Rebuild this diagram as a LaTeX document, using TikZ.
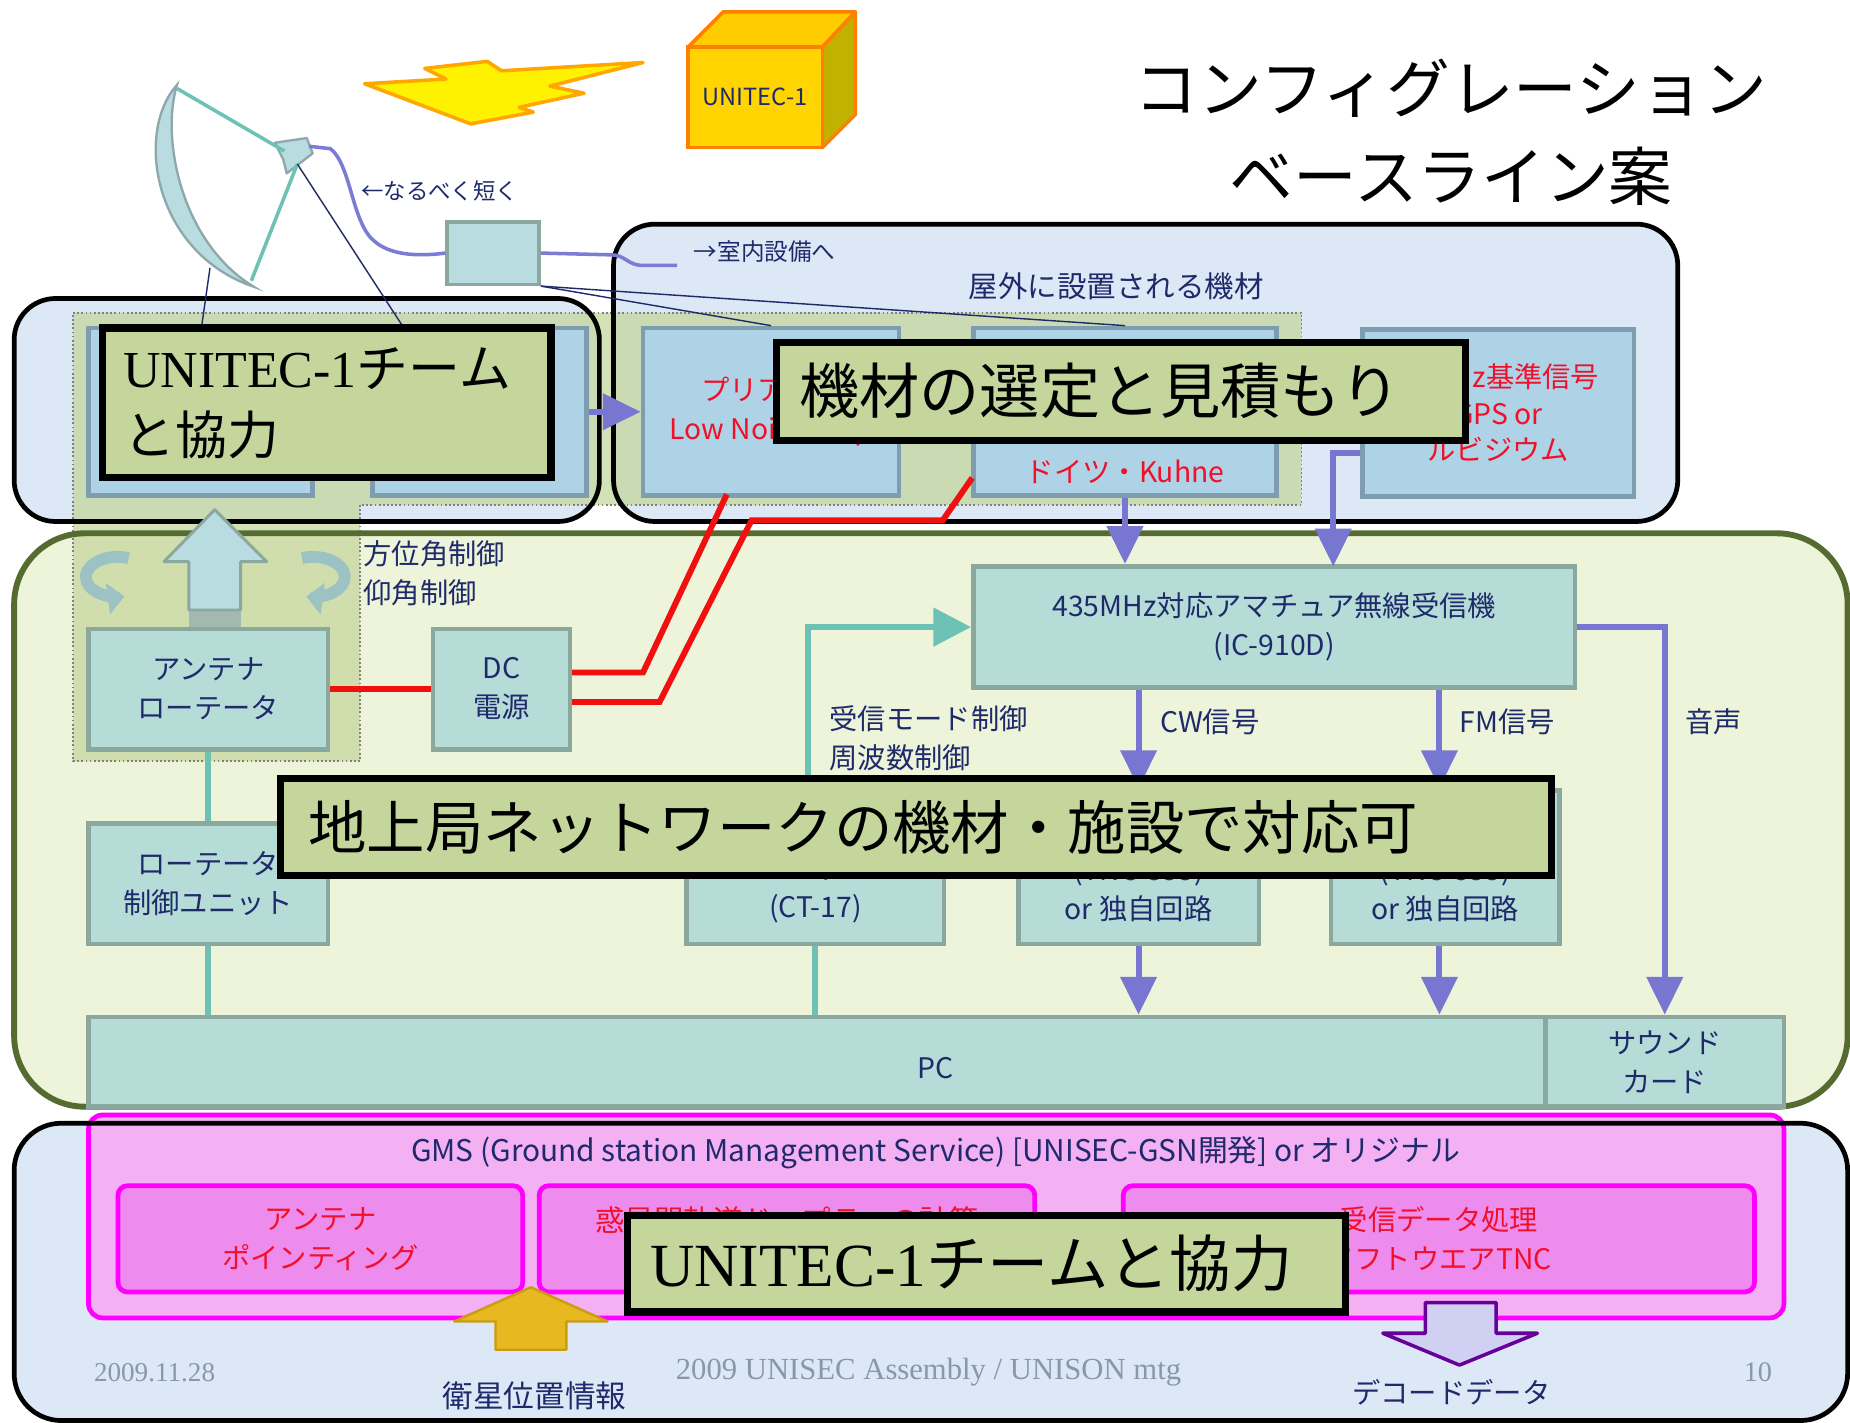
\documentclass[tikz,border=0pt]{standalone}
\usepackage{fontspec}
\setmainfont{Noto Sans CJK JP}
\newfontfamily\jp{Noto Sans CJK JP}
\newfontfamily\rom{Liberation Serif}
\usetikzlibrary{arrows.meta}
\newcommand\fsz[2]{\fontsize{#1}{#2}\selectfont}
\definecolor{navy}{HTML}{1F2A6B}
\definecolor{skyfill}{HTML}{DCE8F5}
\definecolor{grassfill}{HTML}{EDF4D9}
\definecolor{grassline}{HTML}{556B2F}
\definecolor{olivefill}{HTML}{C5D79E}
\definecolor{oboxfill}{HTML}{AFD3E6}
\definecolor{oboxline}{HTML}{7E9DB0}
\definecolor{gboxfill}{HTML}{B5DCD6}
\definecolor{gboxline}{HTML}{8BA89F}
\definecolor{notefill}{HTML}{C4D69C}
\definecolor{arrowblue}{HTML}{7777D2}
\definecolor{tealline}{HTML}{6DC2B5}
\definecolor{redline}{HTML}{F01010}
\definecolor{magline}{HTML}{FF00FF}
\definecolor{magfill}{HTML}{F3B0F3}
\definecolor{subfill}{HTML}{EE8CEE}
\definecolor{redtext}{HTML}{F0102A}
\definecolor{foot}{HTML}{8898A8}
\definecolor{dishc}{HTML}{B8DCE0}
\definecolor{dishline}{HTML}{8FA8AC}
\definecolor{cable}{HTML}{7B7BD8}
\definecolor{goldfill}{HTML}{E8B820}
\definecolor{goldline}{HTML}{C99C12}
\definecolor{spin}{HTML}{9CC2C4}
\begin{document}
\begin{tikzpicture}[x=1pt,y=-1pt,
  lbl/.style={text=navy, font=\fsz{24}{33}, align=center, inner sep=0},
  rlbl/.style={text=redtext, font=\fsz{24}{32}, align=center, inner sep=0},
  obox/.style={draw=oboxline, fill=oboxfill, line width=4, inner sep=0},
  gbox/.style={draw=gboxline, fill=gboxfill, line width=4, inner sep=0, text=navy, font=\fsz{24}{33}, align=center},
  subbox/.style={draw=magline, fill=subfill, line width=4, rounded corners=8, inner sep=0, text=redtext, font=\fsz{24}{33}, align=center},
  note/.style={draw=black, fill=notefill, line width=6, inner sep=0},
  barrow/.style={draw=arrowblue, line width=5, -{Triangle[width=30pt,length=32pt]}},
  tarrow/.style={draw=tealline, line width=5, -{Triangle[width=32pt,length=32pt]}},
  tline/.style={draw=tealline, line width=5},
  rline/.style={draw=redline, line width=5, line join=miter},
  thin/.style={draw=navy, line width=1.2},
  framebox/.style={draw=black, line width=4, rounded corners=35},
  spinarrow/.style={draw=spin, line width=10, -{Triangle[width=26pt,length=14pt]}},
]
\useasboundingbox (0,0) rectangle (1568,1206);
\fill[white] (0,0) rectangle (1568,1206);

% ---------- background areas ----------
\fill[grassfill, rounded corners=60] (12,452) rectangle (1566,938);
\fill[skyfill, rounded corners=40] (12,952) rectangle (1566,1204);
\fill[skyfill, rounded corners=35] (12,253) rectangle (508,442);
\fill[skyfill, rounded corners=35] (520,190) rectangle (1422,442);

% outdoor equipment area (L-shaped, dotted)
\fill[olivefill, opacity=0.75] (62,265) -- (1103,265) -- (1103,428) -- (305,428) -- (305,645) -- (62,645) -- cycle;
\draw[gray, line width=1.5, dotted] (62,265) -- (1103,265) -- (1103,428) -- (305,428) -- (305,645) -- (62,645) -- cycle;

% GMS area
\filldraw[fill=magfill, draw=magline, line width=4, rounded corners=12] (75,945) rectangle (1512,1117);

% frames
\draw[grassline, line width=5, rounded corners=60] (12,452) rectangle (1566,938);
\draw[framebox, rounded corners=40] (12,952) rectangle (1566,1204);
\draw[framebox] (12,253) rectangle (508,442);
\draw[framebox] (520,190) rectangle (1422,442);

% ---------- title ----------
\node[font=\fsz{54}{75}, align=center, inner sep=0] (title) at (1230,112) {コンフィグレーション\\ベースライン案};

% ---------- lightning and satellite ----------
\filldraw[fill=yellow, draw=orange!70!yellow, line width=3, line join=round]
  (309,71) -- (378,67) -- (360,58) -- (413,52) -- (425,60) -- (545,53) -- (466,73)
  -- (495,79) -- (440,91) -- (452,95) -- (399,105) -- cycle;
\filldraw[fill=orange!40!yellow, draw=orange, line width=3, line join=round]
  (583,40) -- (613,10) -- (725,10) -- (697,40) -- cycle;
\filldraw[fill=orange!20!olive!60!yellow, draw=orange, line width=3, line join=round]
  (697,40) -- (725,10) -- (725,97) -- (697,125) -- cycle;
\node[draw=orange, fill=orange!25!yellow!95!red, line width=3, minimum width=114, minimum height=85,
  inner sep=0, text=navy, font=\fsz{20}{24}] (sat) at (640,82.5) {UNITEC-1};

% ---------- antenna ----------
\filldraw[fill=dishc, draw=dishline, line width=2]
  (150,72) .. controls (114,112) and (130,214) .. (215,243)
  .. controls (154,206) and (136,118) .. (150,72) -- cycle;
\coordinate (dtop) at (150,75);
\coordinate (dbot) at (213,238);
\coordinate (dmid) at (178,227);
\filldraw[fill=dishc, draw=dishline, line width=2, line join=round]
  (233,121) -- (260,117) -- (265,130) -- (243,147) -- (240,135) -- cycle;
\coordinate (feed) at (241,128);
\coordinate (feedr) at (262,124);
\coordinate (feedb) at (252,139);
\draw[tealline, line width=3] (dtop) -- (feed);
\draw[tealline, line width=3] (feedb) -- (dbot);

% junction box and cable
\node[draw=gboxline, fill=dishc, line width=3, minimum width=78, minimum height=53, inner sep=0] (jbox) at (418,214.5) {};
\coordinate (indoor) at (574,225);
\draw[cable, line width=3] (feedr) -- (280,126) .. controls (298,140) and (298,190) .. (318,205)
  .. controls (330,215) and (350,218) .. (jbox.west);
\draw[cable, line width=3] (jbox.east) -- (518,216) .. controls (530,216) and (532,225) .. (545,225) -- (indoor);
\node[text=navy, font=\fsz{19}{24}, anchor=west, inner sep=0] (short) at (306,162) {←なるべく短く};
\node[text=navy, font=\fsz{20}{24}, anchor=west, inner sep=0] (toin) at (588,213) {→室内設備へ};
\node[text=navy, font=\fsz{25}{30}, inner sep=0] (outlbl) at (946,243) {屋外に設置される機材};

% ---------- outdoor boxes ----------
\node[obox, minimum width=190, minimum height=142] (boxA) at (170,349) {};
\node[obox, minimum width=181, minimum height=142] (boxB) at (406.5,349) {};
\node[rlbl] at (460,333) {部};
\node[obox, minimum width=217, minimum height=142, text=redtext, font=\fsz{24}{33}, align=center] (boxC) at (653.5,349) {プリアンプ\\Low Noise Amp};
\node[obox, minimum width=257, minimum height=142] (boxD) at (953.5,349) {};
\node[rlbl] (kuhne) at (953.5,400) {ドイツ・Kuhne};
\node[obox, minimum width=230, minimum height=142, text=redtext, font=\fsz{24}{31}, align=center] (boxE) at (1270,350) {10MHz基準信号\\GPS or\\ルビジウム};

\draw[barrow] (boxB.east) -- (boxC.west);

% thin lines from the antenna and the junction box
\coordinate (bBtop) at (341,276);
\coordinate (bAtop) at (171,276);
\draw[thin] (feedb) -- (bBtop);
\draw[thin] (dmid) -- (bAtop);
\draw[thin] (jbox.south east) -- (boxC.north);
\draw[thin] (jbox.south east) -- (boxD.north);

% ---------- ground station boxes ----------
\fill[gboxline!80] (160,515) rectangle (204,535);
\filldraw[fill=dishc, draw=gboxline, line width=2.5, line join=round]
  (182,432) -- (226,476) -- (204,476) -- (204,517) -- (160,517) -- (160,476) -- (139,476) -- cycle;
\draw[spinarrow] (109,473) arc[start angle=-70, end angle=-282, x radius=27, y radius=17];
\draw[spinarrow] (256,473) arc[start angle=-110, end angle=102, x radius=27, y radius=17];

\node[lbl, anchor=west, align=left] (azel) at (308,486) {方位角制御\\仰角制御};

\node[gbox, minimum width=203, minimum height=102] (rot) at (176.5,584) {アンテナ\\ローテータ};
\node[gbox, minimum width=116, minimum height=102] (dc) at (425,584) {DC\\電源};
\node[gbox, minimum width=203, minimum height=102] (ctl) at (176.5,749) {ローテータ\\制御ユニット};
\node[gbox, minimum width=218, minimum height=112] (ct) at (691,744) {};
\node[lbl] (cttext) at (691,754) {ユニット\\(CT-17)};
\node[gbox, minimum width=510, minimum height=103] (rx) at (1080,531.5) {435MHz対応アマチュア無線受信機\\(IC-910D)};
\node[gbox, minimum width=204, minimum height=130] (tnc1) at (965,735) {};
\node[lbl] (tnc1t) at (965,754) {(TNC-555)\\or 独自回路};
\node[gbox, minimum width=194, minimum height=130] (tnc2) at (1225,735) {};
\node[lbl] (tnc2t) at (1225,754) {(TNC-555)\\or 独自回路};
\node[gbox, minimum width=1235, minimum height=76] (pc) at (692.5,900) {};
\node[lbl] (pct) at (793,905) {PC};
\node[gbox, minimum width=202, minimum height=76] (snd) at (1411,900) {サウンド\\カード};

% connectors in the ground station
\draw[rline] (rot.east) -- (dc.west);
\coordinate (redC) at (616,419);
\coordinate (redD) at (824,405);
\draw[rline] ([yshift=14pt]dc.east) -- (545,570) -- (redC);
\draw[rline] ([yshift=-11pt]dc.east) -- (559,595) -- (637,441) -- (799,441) -- (redD);

\draw[tline] (rot.south) -- (ctl.north);
\draw[tline] (ctl.south) -- (ctl.south |- pc.north);
\draw[tline] (ct.south) -- (ct.south |- pc.north);
\draw[tarrow] ([xshift=-6pt]ct.north) |- (rx.west);

\coordinate (eIn) at (1130,480);
\draw[barrow] (boxD.south) -- (boxD.south |- rx.north);
\draw[barrow] ([yshift=-34pt]boxE.west) -| (eIn);
\draw[barrow] (tnc1.north |- rx.south) -- (tnc1.north);
\draw[barrow] ([xshift=-5pt]tnc2.north |- rx.south) -- ([xshift=-5pt]tnc2.north);
\draw[barrow] (tnc1.south) -- (tnc1.south |- pc.north);
\draw[barrow] ([xshift=-5pt]tnc2.south) -- ([xshift=-5pt]tnc2.south |- pc.north);
\draw[barrow, line join=miter] (rx.east) -| (snd.north);

\node[lbl, anchor=west, align=left] (modet) at (703,626) {受信モード制御\\周波数制御};
\node[lbl, anchor=west] (cwt) at (983,612) {CW信号};
\node[lbl, anchor=west] (fmt) at (1237,612) {FM信号};
\node[lbl, anchor=west] (voice) at (1428,612) {音声};

% ---------- GMS ----------
\node[text=navy, font=\fsz{25.3}{30}, inner sep=0] (gms) at (793,977) {GMS (Ground station Management Service) [UNISEC-GSN開発] or オリジナル};
\node[subbox, minimum width=343, minimum height=90] (point) at (271.5,1050) {アンテナ\\ポインティング};
\node[subbox, minimum width=420, minimum height=90] (orbit) at (667,1050) {};
\node[rlbl, font=\fsz{25}{32}] (orbitt) at (667,1034) {惑星間軌道ドップラーの計算};
\node[subbox, minimum width=535, minimum height=90] (decode) at (1219.5,1050) {受信データ処理\\ソフトウエアTNC};

\filldraw[fill=goldfill, draw=goldline, line width=2, line join=round]
  (450,1091) -- (515,1120) -- (480,1120) -- (480,1144) -- (420,1144) -- (420,1120) -- (385,1120) -- cycle;
\filldraw[fill=blue!15!white!90!gray, draw=violet!80!blue, line width=3, line join=round]
  (1208,1104) -- (1268,1104) -- (1268,1130) -- (1303,1130) -- (1237,1157) -- (1172,1130) -- (1208,1130) -- cycle;
\node[text=navy, font=\fsz{26}{30}, inner sep=0] (satpos) at (453,1183) {衛星位置情報};
\node[text=navy, font=\fsz{24}{30}, inner sep=0] (decd) at (1230,1180) {デコードデータ};

% footer
\node[text=foot, font=\rom\fsz{23}{28}, inner sep=0] (date) at (131,1163) {2009.11.28};
\node[text=foot, font=\rom\fsz{26}{30}, inner sep=0] (mtg) at (787,1163) {2009 UNISEC Assembly / UNISON mtg};
\node[text=foot, font=\rom\fsz{24}{28}, inner sep=0] (page) at (1490,1163) {10};

% ---------- notes ----------
\node[note, minimum width=380, minimum height=127, text width=345, align=left, font=\fsz{44}{57}] (n1) at (277,341.5) {{\rom UNITEC-1}チーム\\と協力};
\node[note, minimum width=584, minimum height=83, text width=545, align=left, font=\fsz{51}{60}] (n2) at (950,331.5) {機材の選定と見積もり};
\node[note, minimum width=1077, minimum height=82, text width=1030, align=left, font=\fsz{49.5}{60}] (n3) at (776.5,701) {地上局ネットワークの機材・施設で対応可};
\node[note, minimum width=608, minimum height=82, text width=570, align=left, font=\fsz{52}{60}] (n4) at (836,1071) {{\rom UNITEC-1}チームと協力};
\end{tikzpicture}
\end{document}
